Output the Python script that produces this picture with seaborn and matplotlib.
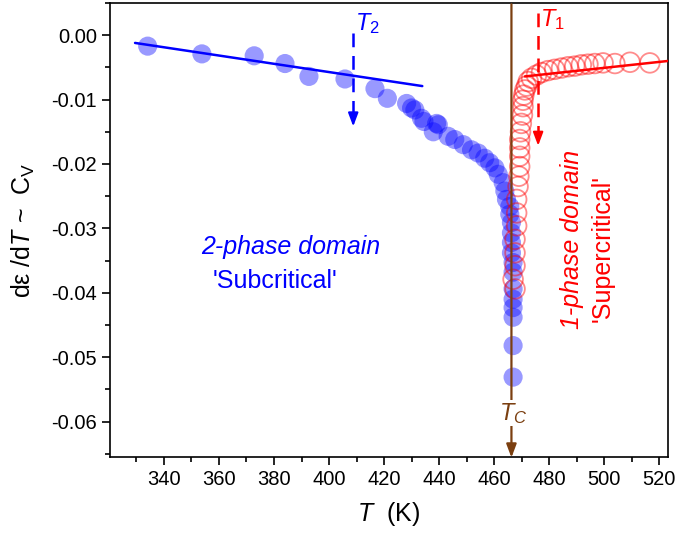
import numpy as np
import pandas as pd
import seaborn as sns
import matplotlib.pyplot as plt
from matplotlib.ticker import MultipleLocator, FormatStrFormatter

# values
blue_T = [334.1, 353.8, 372.8, 384.0, 392.7, 405.8, 416.7, 421.2, 428.2, 430.0,
          431.2, 433.6, 434.5, 437.9, 439.1, 439.7, 443.3, 445.7, 448.8, 451.8,
          454.2, 456.6, 458.4, 460.3, 461.5, 463.3, 463.9, 464.5, 465.7, 465.7,
          466.3, 466.3, 466.3, 466.3, 466.9, 466.9, 466.9, 466.9, 466.9, 466.9,
          466.9, 466.9]
blue_y = [-0.0017, -0.0029, -0.0032, -0.0044, -0.0064, -0.0068, -0.0083, -0.0098, -0.0106, -0.0113,
          -0.0116, -0.0129, -0.0134, -0.0150, -0.0137, -0.0139, -0.0157, -0.0162, -0.0170, -0.0178,
          -0.0183, -0.0191, -0.0198, -0.0206, -0.0216, -0.0229, -0.0242, -0.0255, -0.0266, -0.0278,
          -0.0291, -0.0307, -0.0322, -0.0338, -0.0353, -0.0368, -0.0394, -0.0410, -0.0423, -0.0438,
          -0.0482, -0.0531]

red_T = [467.6, 466.9, 467.6, 467.6, 467.6, 468.2, 468.2, 468.2, 468.7, 469.0,
         469.3, 469.3, 469.3, 469.3, 469.6, 469.9, 470.3, 470.5, 470.5, 470.8,
         471.2, 471.8, 472.4, 473.6, 475.4, 477.2, 479.6, 482.0, 484.5, 486.9,
         489.3, 491.7, 494.1, 496.6, 499.6, 503.9, 509.4, 516.6]
red_y = [-0.0394, -0.0379, -0.0358, -0.0338, -0.0317, -0.0296, -0.0276, -0.0255, -0.0235, -0.0219,
         -0.0204, -0.0188, -0.0175, -0.0162, -0.0150, -0.0137, -0.0124, -0.0111, -0.0101, -0.0093,
         -0.0085, -0.0079, -0.0072, -0.0067, -0.0062, -0.0058, -0.0055, -0.0053, -0.0051, -0.0049,
         -0.0048, -0.0046, -0.0045, -0.0044, -0.0043, -0.0044, -0.0042, -0.0043]

# linear fits (end points)
blue_fit_T = [329.5, 433.9]
blue_fit_y = [-0.0012, -0.0079]
red_fit_T = [471.2, 523.2]
red_fit_y = [-0.0064, -0.0040]

T_1 = 476.0
T_2 = 408.8
T_C = 466.3

x_ticks = list(range(340, 521, 20))
y_ticks = [-0.06, -0.05, -0.04, -0.03, -0.02, -0.01, 0.00]

sns.set_style("ticks")
plt.rcParams['font.family'] = ['Liberation Sans', 'DejaVu Sans']
plt.rcParams['mathtext.fontset'] = 'custom'
plt.rcParams['mathtext.rm'] = 'Liberation Sans'
plt.rcParams['mathtext.it'] = 'Liberation Sans:italic'
plt.rcParams['axes.unicode_minus'] = False
plt.rcParams['text.color'] = 'black'
plt.rcParams['axes.labelcolor'] = 'black'
plt.rcParams['xtick.color'] = 'black'
plt.rcParams['ytick.color'] = 'black'

blue_df = pd.DataFrame({"T": blue_T, "y": blue_y})
red_df = pd.DataFrame({"T": red_T, "y": red_y})

fig = plt.figure(figsize=(6.77, 5.37), dpi=100)
ax = fig.add_axes([0.1625, 0.149, 0.8242, 0.8454])

sns.scatterplot(data=blue_df, x="T", y="y", ax=ax, s=190, color="#0000FF",
                alpha=0.4, edgecolor="none", zorder=3)
sns.scatterplot(data=red_df, x="T", y="y", ax=ax, s=200, facecolor="none",
                edgecolor="#FF0000", linewidth=1.3, alpha=0.45, zorder=3)

ax.plot(blue_fit_T, blue_fit_y, color="#0000FF", lw=1.8, zorder=4)
ax.plot(red_fit_T, red_fit_y, color="#FF0000", lw=1.8, zorder=4)

# T2 / T1 dashed arrows
ax.plot([T_2, T_2], [0.0003, -0.0125], color="#0000FF", lw=1.8, ls=(0, (5.5, 3.5)), zorder=5)
ax.annotate("", xy=(T_2, -0.0146), xytext=(T_2, -0.0120),
            arrowprops=dict(arrowstyle="-|>,head_length=0.8,head_width=0.3", color="#0000FF", lw=1.5))
ax.text(T_2 + 0.6, 0.0018, "$T_2$", color="#0000FF", fontsize=17, ha="left", va="center")

ax.plot([T_1, T_1], [0.0034, -0.0155], color="#FF0000", lw=1.8, ls=(0, (5.5, 3.5)), zorder=5)
ax.annotate("", xy=(T_1, -0.0176), xytext=(T_1, -0.0150),
            arrowprops=dict(arrowstyle="-|>,head_length=0.8,head_width=0.3", color="#FF0000", lw=1.5))
ax.text(T_1 + 0.6, 0.0024, "$T_1$", color="#FF0000", fontsize=17, ha="left", va="center")

# critical temperature line
brown = "#7B3F10"
ax.annotate("", xy=(T_C, -0.0656), xytext=(T_C, 0.0048), annotation_clip=False,
            arrowprops=dict(arrowstyle="-|>,head_length=0.8,head_width=0.3", color=brown, lw=1.6,
                            shrinkA=0, shrinkB=0),
            zorder=6)
ax.text(T_C + 0.5, -0.0587, "$T_C$", color=brown, fontsize=17, ha="center", va="center",
        bbox=dict(facecolor="white", edgecolor="none", pad=0.5), zorder=7)

ax.text(386.2, -0.0329, "2-phase domain", color="#0000FF", fontsize=18, style="italic",
        ha="center", va="center")
ax.text(380.4, -0.0382, "'Subcritical'", color="#0000FF", fontsize=18, ha="center", va="center")
ax.text(488.2, -0.0317, "1-phase domain", color="#FF0000", fontsize=18, style="italic",
        rotation=90, ha="center", va="center")
ax.text(499.5, -0.0332, "'Supercritical'", color="#FF0000", fontsize=18,
        rotation=90, ha="center", va="center")

ax.set_xlim(320.4, 523.2)
ax.set_ylim(-0.0655, 0.005)
ax.set_xticks(x_ticks)
ax.set_yticks(y_ticks)
ax.xaxis.set_minor_locator(MultipleLocator(10))
ax.yaxis.set_minor_locator(MultipleLocator(0.005))
ax.yaxis.set_major_formatter(FormatStrFormatter("%.2f"))
ax.tick_params(which="major", direction="out", length=6, width=1.2, labelsize=14.5,
               top=False, right=False, colors="black")
ax.tick_params(which="minor", direction="out", length=3.5, width=1.2, top=False, right=False,
               colors="black")
for sp in ax.spines.values():
    sp.set_visible(True)
    sp.set_linewidth(1.2)
    sp.set_color("black")

ax.set_xlabel("$T$  (K)", fontsize=18, labelpad=8, color="black")
ax.set_ylabel("dε /d$T$ ~  C$_\\mathrm{V}$", fontsize=18, labelpad=10, color="black")

fig.savefig("out.png", dpi=100)
